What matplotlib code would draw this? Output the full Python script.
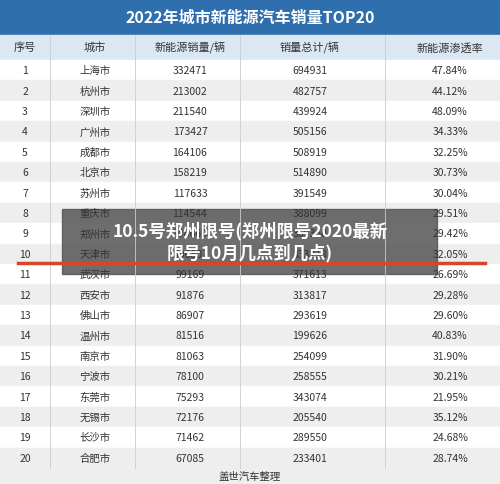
import matplotlib.pyplot as plt
from matplotlib.patches import Rectangle

plt.rcParams['font.family'] = ['Noto Sans CJK SC', 'DejaVu Sans']

title = "2022年城市新能源汽车销量TOP20"
headers = ["序号", "城市", "新能源销量/辆", "销量总计/辆", "新能源渗透率"]
ranks = list(range(1, 21))
cities = ["上海市", "杭州市", "深圳市", "广州市", "成都市", "北京市", "苏州市", "重庆市",
          "郑州市", "天津市", "武汉市", "西安市", "佛山市", "温州市", "南京市", "宁波市",
          "东莞市", "无锡市", "长沙市", "合肥市"]
nev_sales = [332471, 213002, 211540, 173427, 164106, 158219, 117633, 114544, 108669, 106807,
             99169, 91876, 86907, 81516, 81063, 78100, 75293, 72176, 71462, 67085]
total_sales = [694931, 482757, 439924, 505156, 508919, 514890, 391549, 388099, 369360, 333218,
               371613, 313817, 293619, 199626, 254099, 258555, 343074, 205540, 289550, 233401]
penetration = ["47.84%", "44.12%", "48.09%", "34.33%", "32.25%", "30.73%", "30.04%", "29.51%",
               "29.42%", "32.05%", "26.69%", "29.28%", "29.60%", "40.83%", "31.90%", "30.21%",
               "21.95%", "35.12%", "24.68%", "28.74%"]
source = "盖世汽车整理"
overlay = "10.5号郑州限号(郑州限号2020最新\n限号10月几点到几点)"

W, H = 500, 485
fig = plt.figure(figsize=(5, 4.85), dpi=100)
ax = fig.add_axes([0, 0, 1, 1])
ax.set_xlim(0, W)
ax.set_ylim(H, 0)
ax.axis('off')

# title bar
ax.add_patch(Rectangle((0, 0), W, 36, color='#2f6fae'))
ax.text(W / 2, 18, title, color='white', fontsize=11.5, fontweight='bold', ha='center', va='center')
# header
ax.add_patch(Rectangle((0, 36), W, 24, color='#dbe8f4'))
col_x = [25, 95, 190, 310, 450]
for x, h in zip(col_x, headers):
    ax.text(x, 48, h, fontsize=8, color='#333333', ha='center', va='center')

top, rh = 61, 20.4
for i in range(20):
    y = top + i * rh
    ax.add_patch(Rectangle((0, y), W, rh, color='#ffffff' if i % 2 == 0 else '#eeeeee'))
    cells = [str(ranks[i]), cities[i], str(nev_sales[i]), str(total_sales[i]), penetration[i]]
    for x, c in zip(col_x, cells):
        ax.text(x, y + rh / 2, c, fontsize=7.5, color='#333333', ha='center', va='center')
bottom = top + 20 * rh
for vx in [50, 135, 240, 385]:
    ax.plot([vx, vx], [36, bottom], color='#cccccc', lw=0.6)
ax.add_patch(Rectangle((0, bottom), W, H - bottom, color='#eeeeee'))
ax.text(W / 2, (bottom + H) / 2, source, fontsize=7.5, color='#333333', ha='center', va='center')

# red underline of row 10
ax.plot([18, 485], [top + 10 * rh - 1, top + 10 * rh - 1], color='#d9452b', lw=2.5)

# overlay caption
ax.add_patch(Rectangle((62, 210), 375, 65, color='#555555', alpha=0.85))
ax.text(W / 2, 242, overlay, color='white', fontsize=12.5, fontweight='bold',
        ha='center', va='center', linespacing=1.25)

fig.savefig('out.png', dpi=100)
